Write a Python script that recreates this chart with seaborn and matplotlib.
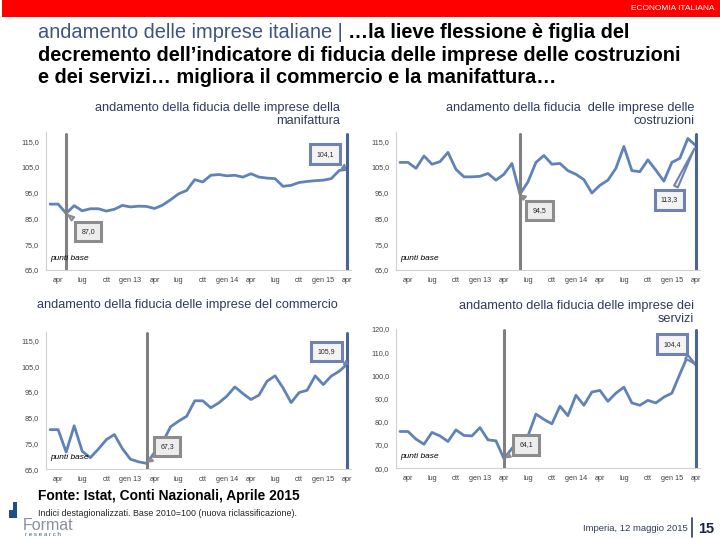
import matplotlib
matplotlib.use('Agg')
import matplotlib.pyplot as plt
import seaborn as sns
import pandas as pd
import numpy as np
from matplotlib.patches import Rectangle
from matplotlib.ticker import FuncFormatter, MultipleLocator

# mesi da marzo 2012 ad aprile 2015
nomi = ['gen', 'feb', 'mar', 'apr', 'mag', 'giu', 'lug', 'ago', 'set', 'ott', 'nov', 'dic']
mesi = [f"{nomi[(2 + k) % 12]} {12 + (2 + k) // 12}" for k in range(38)]
mostrati = ['apr', 'lug', 'ott', 'gen']

manifattura = [90.6, 90.6, 87.0, 90.0, 88.0, 88.8, 88.8, 87.9, 88.6, 90.1, 89.5, 89.8, 89.7,
               88.9, 90.2, 92.3, 94.6, 95.9, 100.1, 99.2, 101.8, 102.1, 101.6, 101.8, 101.1,
               102.4, 101.1, 100.7, 100.5, 97.5, 97.9, 99.0, 99.4, 99.7, 99.9, 100.5, 103.7, 104.1]
costruzioni = [106.8, 106.8, 104.5, 109.3, 106.1, 107.1, 110.7, 104.1, 101.2, 101.2, 101.4,
               102.5, 99.9, 102.2, 106.4, 94.5, 99.2, 106.8, 109.5, 106.1, 106.4, 103.6, 102.2,
               100.1, 94.9, 97.9, 99.9, 104.5, 113.0, 103.6, 103.2, 107.8, 103.8, 99.5, 106.8,
               108.4, 116.1, 113.3]
commercio = [80.4, 80.4, 71.7, 81.9, 72.0, 69.5, 72.8, 76.5, 78.5, 73.0, 68.9, 67.9, 67.3,
             71.5, 75.5, 81.5, 83.7, 85.6, 91.6, 91.6, 88.9, 90.8, 93.4, 97.0, 94.4, 92.1,
             93.8, 99.2, 101.3, 96.6, 90.9, 94.8, 95.7, 101.3, 97.9, 101.2, 103.1, 105.9]
servizi = [75.8, 75.8, 72.5, 70.3, 75.4, 73.9, 71.5, 76.5, 74.1, 73.9, 77.5, 72.2, 71.8,
           64.1, 68.5, 73.0, 73.8, 83.3, 81.0, 79.1, 86.7, 82.6, 91.4, 87.1, 92.8, 93.5,
           88.8, 92.3, 94.9, 88.1, 87.1, 89.2, 88.1, 90.6, 92.3, 100.5, 108.5, 104.4]

titoli = ['andamento della fiducia delle imprese della\nmanifattura',
          'andamento della fiducia  delle imprese delle\ncostruzioni',
          'andamento della fiducia delle imprese del commercio',
          'andamento della fiducia delle imprese dei\nservizi']

sns.set_style('white')
plt.rcParams['font.family'] = ['Liberation Sans', 'DejaVu Sans']

LINEA = '#5f83b8'
BLU = '#4a6496'
GRIGIO = '#808080'
NAVY = '#2e3b5e'

df = pd.DataFrame({'t': np.arange(len(mesi)), 'mese': mesi,
                   'manifattura': manifattura, 'costruzioni': costruzioni,
                   'commercio': commercio, 'servizi': servizi})

fig = plt.figure(figsize=(7.2, 5.4), dpi=100)

# posizione assi, limiti, offset dei box (punti), posizione del titolo
pannelli = [
    ('manifattura', [0.064, 0.500, 0.424, 0.255], (65, 118.5), 65, (16, -13), (-16, 11), (0.472, 0.788)),
    ('costruzioni', [0.550, 0.500, 0.422, 0.255], (65, 118.5), 65, (14, -12), (-19, -39), (0.964, 0.788)),
    ('commercio', [0.064, 0.131, 0.424, 0.255], (65, 118.5), 65, (15, 12), (-15, 9), (0.469, 0.435)),
    ('servizi', [0.550, 0.133, 0.422, 0.258], (60, 120), 60, (16, 10), (-17, 15), (0.964, 0.421)),
]

fmt = FuncFormatter(lambda v, p: f"{v:.1f}".replace('.', ','))

for (col, pos, ylim, y0, off_min, off_end, tpos), titolo in zip(pannelli, titoli):
    ax = fig.add_axes(pos)
    sns.lineplot(data=df, x='t', y=col, ax=ax, color=LINEA, linewidth=2.0)
    ax.set_xlim(-0.5, len(mesi) - 0.5)
    ax.set_ylim(*ylim)
    ax.set_yticks(np.arange(y0, ylim[1] + 0.1, 10))
    ax.yaxis.set_major_formatter(fmt)
    pos_tick = [i for i, m in enumerate(mesi) if m.split()[0] in mostrati]
    lab = [m if m.startswith('gen') else m.split()[0] for m in mesi]
    ax.set_xticks(pos_tick)
    ax.set_xticklabels([lab[i] for i in pos_tick])
    ax.xaxis.set_minor_locator(MultipleLocator(1))
    ax.set_xlabel('')
    ax.set_ylabel('')
    sns.despine(ax=ax)
    for s in ['left', 'bottom']:
        ax.spines[s].set_color('#d0d0d0')
        ax.spines[s].set_linewidth(0.8)
    ax.tick_params(axis='both', which='both', labelsize=5.2, colors='#d0d0d0',
                   labelcolor='#404040', length=2, width=0.6, pad=3)
    ax.tick_params(axis='x', which='minor', length=2)

    vals = df[col].values
    i_min = int(np.argmin(vals))
    i_end = len(vals) - 1
    ax.axvline(i_min, color=GRIGIO, linewidth=2.2, ymax=0.99)
    ax.axvline(i_end, color=BLU, linewidth=2.2, ymax=0.99)

    ax.text(0.015, 0.075, 'punti base', transform=ax.transAxes, fontsize=6,
            style='italic', color='black')

    for i, off, fc, ec in [(i_min, off_min, '#ededed', '#8c8c8c'),
                           (i_end, off_end, '#f4f4f4', '#6f83b3')]:
        ax.annotate(f"{vals[i]:.1f}".replace('.', ','), xy=(i, vals[i]), xytext=off,
                    textcoords='offset points', ha='center', va='center', fontsize=5,
                    bbox=dict(boxstyle='square,pad=0.9', fc=fc, ec=ec, lw=2.2),
                    arrowprops=dict(arrowstyle='wedge,tail_width=0.6,shrink_factor=0.5',
                                    fc=fc, ec=ec, lw=1.5))

    fig.text(tpos[0], tpos[1], titolo, ha='right', va='center', fontsize=9.2, color=NAVY,
             linespacing=1.15)

# fascia rossa in alto
fig.patches.append(Rectangle((0.003, 0.968), 0.997, 0.032, transform=fig.transFigure,
                             facecolor='#ff0000', edgecolor='none'))
fig.text(0.992, 0.984, 'ECONOMIA ITALIANA', ha='right', va='center', fontsize=6,
         color='white')

# titolo principale
fig.canvas.draw()
r = fig.canvas.get_renderer()
t1 = fig.text(0.053, 0.9407, 'andamento delle imprese italiane | ', ha='left', va='center',
              fontsize=14.4, color='#3f5482')
bb = t1.get_window_extent(renderer=r)
fig.text(bb.x1 / fig.bbox.width, 0.9407, '…la lieve flessione è figlia del', ha='left',
         va='center', fontsize=14.4, fontweight='bold', color='black')
fig.text(0.053, 0.898, 'decremento dell’indicatore di fiducia delle imprese delle costruzioni',
         ha='left', va='center', fontsize=14.4, fontweight='bold', color='black')
fig.text(0.053, 0.857, 'e dei servizi… migliora il commercio e la manifattura…',
         ha='left', va='center', fontsize=14.4, fontweight='bold', color='black')

# note in basso
fig.text(0.053, 0.082, 'Fonte: Istat, Conti Nazionali, Aprile 2015', ha='left', va='center',
         fontsize=9.9, fontweight='bold', color='black')
fig.text(0.053, 0.05, 'Indici destagionalizzati. Base 2010=100 (nuova riclassificazione).',
         ha='left', va='center', fontsize=6.4, color='#222222')

# logo
for (x, y, w, h) in [(0.0125, 0.0407, 0.011, 0.0148), (0.018, 0.0556, 0.0056, 0.0148)]:
    fig.patches.append(Rectangle((x, y), w, h, transform=fig.transFigure,
                                 facecolor='#1f4e8c', edgecolor='none'))
fig.text(0.032, 0.027, 'Format', ha='left', va='center', fontsize=11.5, color='#8a8f99')
fig.text(0.035, 0.010, 'r e s e a r c h', ha='left', va='center', fontsize=4.4,
         color='#3a5a8c')

fig.text(0.955, 0.022, 'Imperia, 12 maggio 2015', ha='right', va='center', fontsize=6.8,
         color='#2e3b5e')
fig.add_artist(plt.Line2D([0.961, 0.961], [0.005, 0.04], color='#2e3b5e', linewidth=1.2,
                          transform=fig.transFigure))
fig.text(0.969, 0.020, '15', ha='left', va='center', fontsize=10.5, fontweight='bold',
         color='#1a2540')

fig.savefig('out.png', dpi=100)
